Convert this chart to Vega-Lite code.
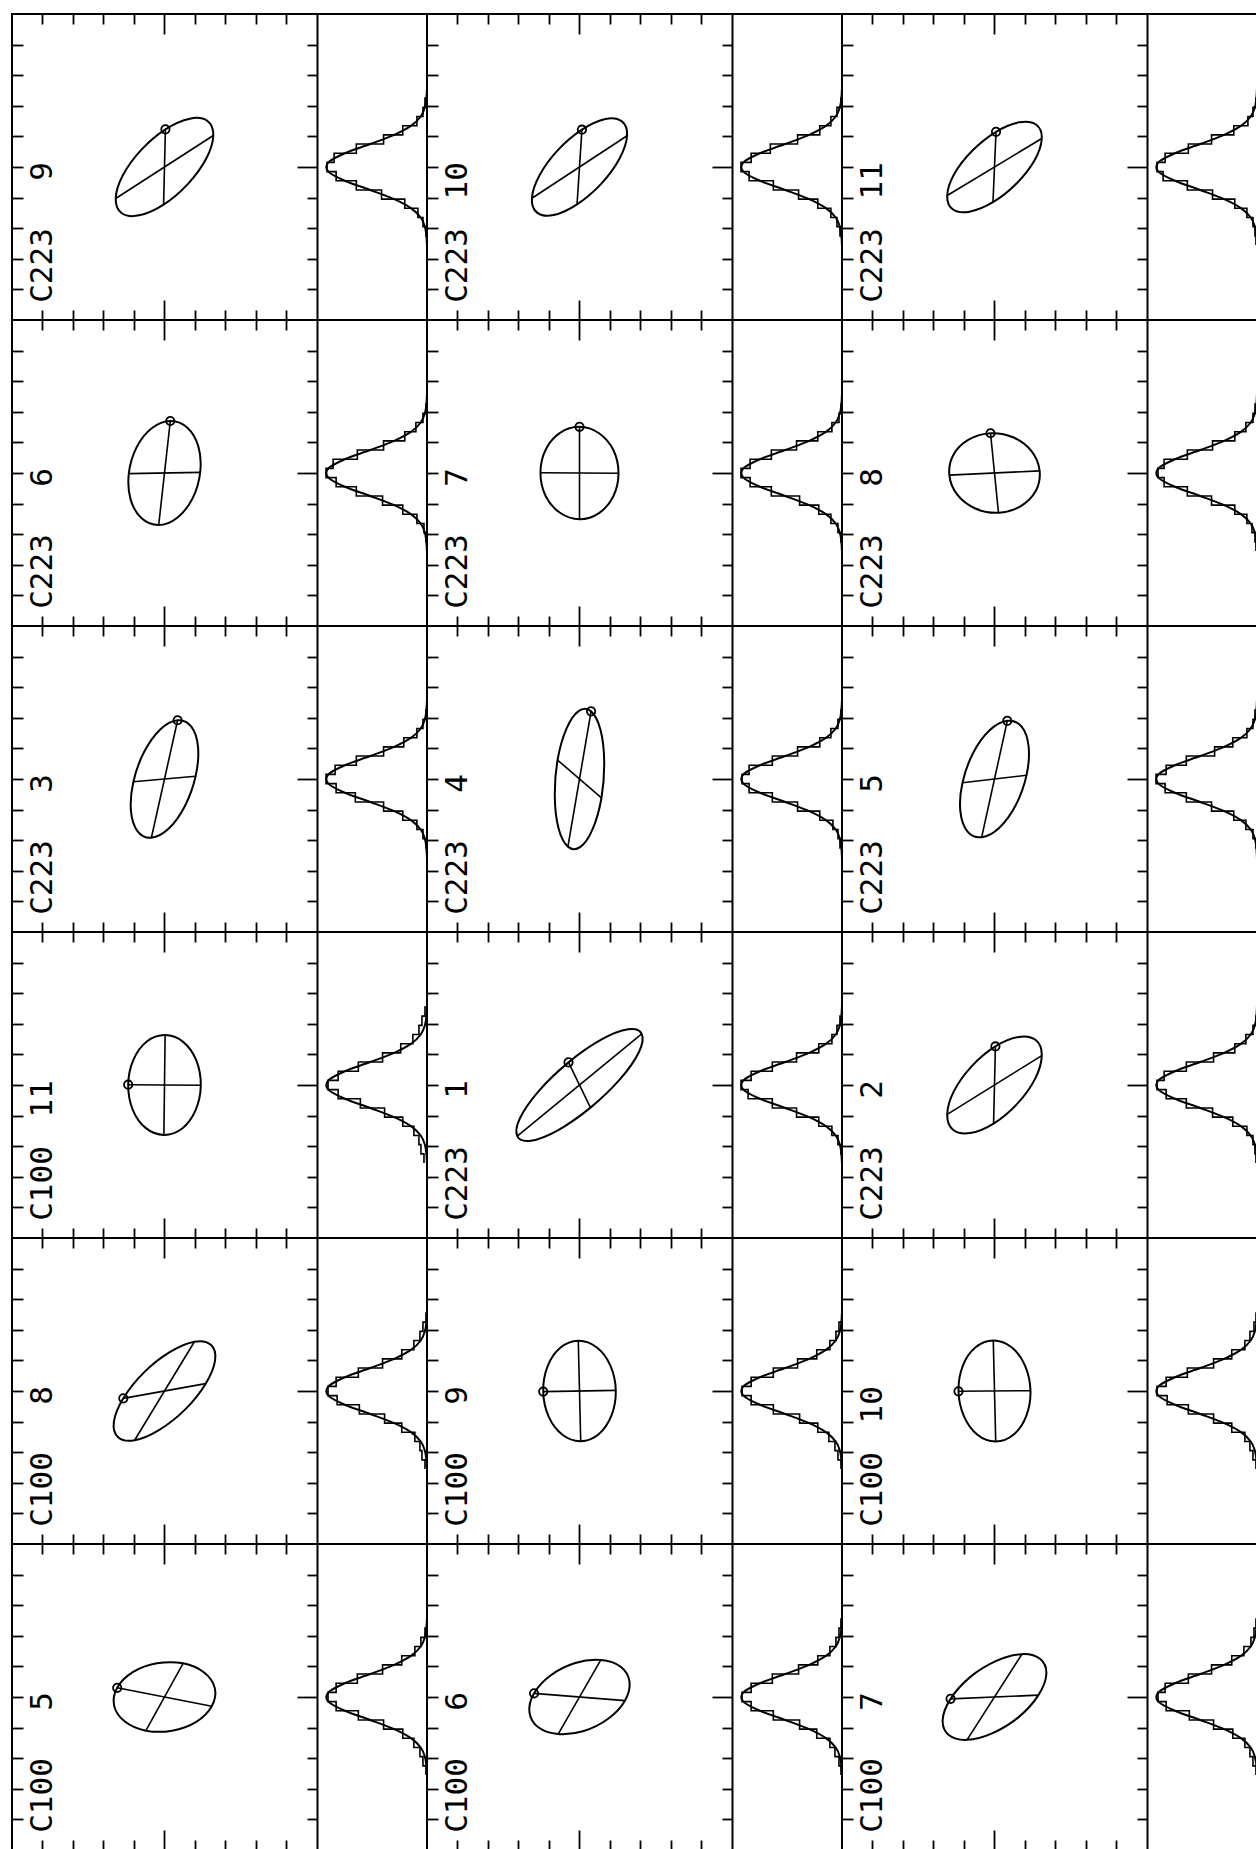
{
"$schema":"https://vega.github.io/schema/vega-lite/v6.json",
"padding":{"left":10,"top":12,"right":0,"bottom":0},
"background":"white",
"bounds":"flush",
"data":{"values":[
{"t":"e","r":0,"c":0,"k":0,"x":0.03,"y":1.23},{"t":"e","r":0,"c":0,"k":1,"x":0.83,"y":1.58},{"t":"e","r":0,"c":0,"k":2,"x":1.40,"y":1.51},{"t":"e","r":0,"c":0,"k":3,"x":1.60,"y":1.03},{"t":"e","r":0,"c":0,"k":4,"x":1.37,"y":0.28},{"t":"e","r":0,"c":0,"k":5,"x":0.77,"y":-0.55},{"t":"e","r":0,"c":0,"k":6,"x":-0.03,"y":-1.23},{"t":"e","r":0,"c":0,"k":7,"x":-0.83,"y":-1.58},{"t":"e","r":0,"c":0,"k":8,"x":-1.40,"y":-1.51},{"t":"e","r":0,"c":0,"k":9,"x":-1.60,"y":-1.03},{"t":"e","r":0,"c":0,"k":10,"x":-1.37,"y":-0.28},{"t":"e","r":0,"c":0,"k":11,"x":-0.77,"y":0.55},
{"t":"e","r":0,"c":1,"k":0,"x":0.08,"y":1.22},{"t":"e","r":0,"c":1,"k":1,"x":0.85,"y":1.57},{"t":"e","r":0,"c":1,"k":2,"x":1.39,"y":1.49},{"t":"e","r":0,"c":1,"k":3,"x":1.56,"y":1.02},{"t":"e","r":0,"c":1,"k":4,"x":1.31,"y":0.27},{"t":"e","r":0,"c":1,"k":5,"x":0.71,"y":-0.55},{"t":"e","r":0,"c":1,"k":6,"x":-0.08,"y":-1.22},{"t":"e","r":0,"c":1,"k":7,"x":-0.85,"y":-1.57},{"t":"e","r":0,"c":1,"k":8,"x":-1.39,"y":-1.49},{"t":"e","r":0,"c":1,"k":9,"x":-1.56,"y":-1.02},{"t":"e","r":0,"c":1,"k":10,"x":-1.31,"y":-0.27},{"t":"e","r":0,"c":1,"k":11,"x":-0.71,"y":0.55},
{"t":"e","r":0,"c":2,"k":0,"x":0.05,"y":1.15},{"t":"e","r":0,"c":2,"k":1,"x":0.82,"y":1.46},{"t":"e","r":0,"c":2,"k":2,"x":1.37,"y":1.38},{"t":"e","r":0,"c":2,"k":3,"x":1.55,"y":0.93},{"t":"e","r":0,"c":2,"k":4,"x":1.32,"y":0.23},{"t":"e","r":0,"c":2,"k":5,"x":0.73,"y":-0.53},{"t":"e","r":0,"c":2,"k":6,"x":-0.05,"y":-1.15},{"t":"e","r":0,"c":2,"k":7,"x":-0.82,"y":-1.46},{"t":"e","r":0,"c":2,"k":8,"x":-1.37,"y":-1.38},{"t":"e","r":0,"c":2,"k":9,"x":-1.55,"y":-0.93},{"t":"e","r":0,"c":2,"k":10,"x":-1.32,"y":-0.23},{"t":"e","r":0,"c":2,"k":11,"x":-0.73,"y":0.53},
{"t":"e","r":1,"c":0,"k":0,"x":0.19,"y":1.70},{"t":"e","r":1,"c":0,"k":1,"x":0.75,"y":1.48},{"t":"e","r":1,"c":0,"k":2,"x":1.11,"y":0.87},{"t":"e","r":1,"c":0,"k":3,"x":1.17,"y":0.02},{"t":"e","r":1,"c":0,"k":4,"x":0.92,"y":-0.83},{"t":"e","r":1,"c":0,"k":5,"x":0.42,"y":-1.46},{"t":"e","r":1,"c":0,"k":6,"x":-0.19,"y":-1.70},{"t":"e","r":1,"c":0,"k":7,"x":-0.75,"y":-1.48},{"t":"e","r":1,"c":0,"k":8,"x":-1.11,"y":-0.87},{"t":"e","r":1,"c":0,"k":9,"x":-1.17,"y":-0.02},{"t":"e","r":1,"c":0,"k":10,"x":-0.92,"y":0.83},{"t":"e","r":1,"c":0,"k":11,"x":-0.42,"y":1.46},
{"t":"e","r":1,"c":1,"k":0,"x":0,"y":1.51},{"t":"e","r":1,"c":1,"k":1,"x":0.64,"y":1.30},{"t":"e","r":1,"c":1,"k":2,"x":1.11,"y":0.75},{"t":"e","r":1,"c":1,"k":3,"x":1.28,"y":-0.01},{"t":"e","r":1,"c":1,"k":4,"x":1.11,"y":-0.76},{"t":"e","r":1,"c":1,"k":5,"x":0.64,"y":-1.31},{"t":"e","r":1,"c":1,"k":6,"x":0,"y":-1.51},{"t":"e","r":1,"c":1,"k":7,"x":-0.64,"y":-1.30},{"t":"e","r":1,"c":1,"k":8,"x":-1.11,"y":-0.75},{"t":"e","r":1,"c":1,"k":9,"x":-1.28,"y":0.01},{"t":"e","r":1,"c":1,"k":10,"x":-1.11,"y":0.76},{"t":"e","r":1,"c":1,"k":11,"x":-0.64,"y":1.31},
{"t":"e","r":1,"c":2,"k":0,"x":-0.13,"y":1.30},{"t":"e","r":1,"c":2,"k":1,"x":0.63,"y":1.16},{"t":"e","r":1,"c":2,"k":2,"x":1.22,"y":0.71},{"t":"e","r":1,"c":2,"k":3,"x":1.48,"y":0.07},{"t":"e","r":1,"c":2,"k":4,"x":1.35,"y":-0.59},{"t":"e","r":1,"c":2,"k":5,"x":0.85,"y":-1.09},{"t":"e","r":1,"c":2,"k":6,"x":0.13,"y":-1.30},{"t":"e","r":1,"c":2,"k":7,"x":-0.63,"y":-1.16},{"t":"e","r":1,"c":2,"k":8,"x":-1.22,"y":-0.71},{"t":"e","r":1,"c":2,"k":9,"x":-1.48,"y":-0.07},{"t":"e","r":1,"c":2,"k":10,"x":-1.35,"y":0.59},{"t":"e","r":1,"c":2,"k":11,"x":-0.85,"y":1.09},
{"t":"e","r":2,"c":0,"k":0,"x":0.43,"y":1.92},{"t":"e","r":2,"c":0,"k":1,"x":0.88,"y":1.71},{"t":"e","r":2,"c":0,"k":2,"x":1.10,"y":1.04},{"t":"e","r":2,"c":0,"k":3,"x":1.02,"y":0.09},{"t":"e","r":2,"c":0,"k":4,"x":0.67,"y":-0.88},{"t":"e","r":2,"c":0,"k":5,"x":0.14,"y":-1.62},{"t":"e","r":2,"c":0,"k":6,"x":-0.43,"y":-1.92},{"t":"e","r":2,"c":0,"k":7,"x":-0.88,"y":-1.71},{"t":"e","r":2,"c":0,"k":8,"x":-1.10,"y":-1.04},{"t":"e","r":2,"c":0,"k":9,"x":-1.02,"y":-0.09},{"t":"e","r":2,"c":0,"k":10,"x":-0.67,"y":0.88},{"t":"e","r":2,"c":0,"k":11,"x":-0.14,"y":1.62},
{"t":"e","r":2,"c":1,"k":0,"x":0.38,"y":2.21},{"t":"e","r":2,"c":1,"k":1,"x":0.69,"y":1.60},{"t":"e","r":2,"c":1,"k":2,"x":0.81,"y":0.57},{"t":"e","r":2,"c":1,"k":3,"x":0.72,"y":-0.62},{"t":"e","r":2,"c":1,"k":4,"x":0.43,"y":-1.64},{"t":"e","r":2,"c":1,"k":5,"x":0.03,"y":-2.22},{"t":"e","r":2,"c":1,"k":6,"x":-0.38,"y":-2.21},{"t":"e","r":2,"c":1,"k":7,"x":-0.69,"y":-1.60},{"t":"e","r":2,"c":1,"k":8,"x":-0.81,"y":-0.57},{"t":"e","r":2,"c":1,"k":9,"x":-0.72,"y":0.62},{"t":"e","r":2,"c":1,"k":10,"x":-0.43,"y":1.64},{"t":"e","r":2,"c":1,"k":11,"x":-0.03,"y":2.22},
{"t":"e","r":2,"c":2,"k":0,"x":0.42,"y":1.90},{"t":"e","r":2,"c":2,"k":1,"x":0.89,"y":1.71},{"t":"e","r":2,"c":2,"k":2,"x":1.12,"y":1.05},{"t":"e","r":2,"c":2,"k":3,"x":1.05,"y":0.12},{"t":"e","r":2,"c":2,"k":4,"x":0.70,"y":-0.85},{"t":"e","r":2,"c":2,"k":5,"x":0.16,"y":-1.59},{"t":"e","r":2,"c":2,"k":6,"x":-0.42,"y":-1.90},{"t":"e","r":2,"c":2,"k":7,"x":-0.89,"y":-1.71},{"t":"e","r":2,"c":2,"k":8,"x":-1.12,"y":-1.05},{"t":"e","r":2,"c":2,"k":9,"x":-1.05,"y":-0.12},{"t":"e","r":2,"c":2,"k":10,"x":-0.70,"y":0.85},{"t":"e","r":2,"c":2,"k":11,"x":-0.16,"y":1.59},
{"t":"e","r":3,"c":0,"k":0,"x":-1.19,"y":0.01},{"t":"e","r":3,"c":0,"k":1,"x":-1.02,"y":0.82},{"t":"e","r":3,"c":0,"k":2,"x":-0.58,"y":1.42},{"t":"e","r":3,"c":0,"k":3,"x":0.02,"y":1.63},{"t":"e","r":3,"c":0,"k":4,"x":0.61,"y":1.41},{"t":"e","r":3,"c":0,"k":5,"x":1.04,"y":0.81},{"t":"e","r":3,"c":0,"k":6,"x":1.19,"y":-0.01},{"t":"e","r":3,"c":0,"k":7,"x":1.02,"y":-0.82},{"t":"e","r":3,"c":0,"k":8,"x":0.58,"y":-1.42},{"t":"e","r":3,"c":0,"k":9,"x":-0.02,"y":-1.63},{"t":"e","r":3,"c":0,"k":10,"x":-0.61,"y":-1.41},{"t":"e","r":3,"c":0,"k":11,"x":-1.04,"y":-0.81},
{"t":"e","r":3,"c":1,"k":0,"x":-0.36,"y":0.74},{"t":"e","r":3,"c":1,"k":1,"x":0.71,"y":1.48},{"t":"e","r":3,"c":1,"k":2,"x":1.59,"y":1.82},{"t":"e","r":3,"c":1,"k":3,"x":2.04,"y":1.67},{"t":"e","r":3,"c":1,"k":4,"x":1.95,"y":1.08},{"t":"e","r":3,"c":1,"k":5,"x":1.33,"y":0.19},{"t":"e","r":3,"c":1,"k":6,"x":0.36,"y":-0.74},{"t":"e","r":3,"c":1,"k":7,"x":-0.71,"y":-1.48},{"t":"e","r":3,"c":1,"k":8,"x":-1.59,"y":-1.82},{"t":"e","r":3,"c":1,"k":9,"x":-2.04,"y":-1.67},{"t":"e","r":3,"c":1,"k":10,"x":-1.95,"y":-1.08},{"t":"e","r":3,"c":1,"k":11,"x":-1.33,"y":-0.19},
{"t":"e","r":3,"c":2,"k":0,"x":0.03,"y":1.26},{"t":"e","r":3,"c":2,"k":1,"x":0.80,"y":1.57},{"t":"e","r":3,"c":2,"k":2,"x":1.36,"y":1.46},{"t":"e","r":3,"c":2,"k":3,"x":1.55,"y":0.96},{"t":"e","r":3,"c":2,"k":4,"x":1.33,"y":0.20},{"t":"e","r":3,"c":2,"k":5,"x":0.75,"y":-0.61},{"t":"e","r":3,"c":2,"k":6,"x":-0.03,"y":-1.26},{"t":"e","r":3,"c":2,"k":7,"x":-0.80,"y":-1.57},{"t":"e","r":3,"c":2,"k":8,"x":-1.36,"y":-1.46},{"t":"e","r":3,"c":2,"k":9,"x":-1.55,"y":-0.96},{"t":"e","r":3,"c":2,"k":10,"x":-1.33,"y":-0.20},{"t":"e","r":3,"c":2,"k":11,"x":-0.75,"y":0.61},
{"t":"e","r":4,"c":0,"k":0,"x":-1.35,"y":-0.24},{"t":"e","r":4,"c":0,"k":1,"x":-0.68,"y":0.60},{"t":"e","r":4,"c":0,"k":2,"x":0.17,"y":1.27},{"t":"e","r":4,"c":0,"k":3,"x":0.98,"y":1.61},{"t":"e","r":4,"c":0,"k":4,"x":1.52,"y":1.51},{"t":"e","r":4,"c":0,"k":5,"x":1.66,"y":1.01},{"t":"e","r":4,"c":0,"k":6,"x":1.35,"y":0.24},{"t":"e","r":4,"c":0,"k":7,"x":0.68,"y":-0.60},{"t":"e","r":4,"c":0,"k":8,"x":-0.17,"y":-1.27},{"t":"e","r":4,"c":0,"k":9,"x":-0.98,"y":-1.61},{"t":"e","r":4,"c":0,"k":10,"x":-1.52,"y":-1.51},{"t":"e","r":4,"c":0,"k":11,"x":-1.66,"y":-1.01},
{"t":"e","r":4,"c":1,"k":0,"x":-1.19,"y":-0.02},{"t":"e","r":4,"c":1,"k":1,"x":-1.05,"y":0.80},{"t":"e","r":4,"c":1,"k":2,"x":-0.63,"y":1.41},{"t":"e","r":4,"c":1,"k":3,"x":-0.04,"y":1.64},{"t":"e","r":4,"c":1,"k":4,"x":0.56,"y":1.43},{"t":"e","r":4,"c":1,"k":5,"x":1.01,"y":0.84},{"t":"e","r":4,"c":1,"k":6,"x":1.19,"y":0.02},{"t":"e","r":4,"c":1,"k":7,"x":1.05,"y":-0.80},{"t":"e","r":4,"c":1,"k":8,"x":0.63,"y":-1.41},{"t":"e","r":4,"c":1,"k":9,"x":0.04,"y":-1.64},{"t":"e","r":4,"c":1,"k":10,"x":-0.56,"y":-1.43},{"t":"e","r":4,"c":1,"k":11,"x":-1.01,"y":-0.84},
{"t":"e","r":4,"c":2,"k":0,"x":-1.18,"y":-0.01},{"t":"e","r":4,"c":2,"k":1,"x":-1.04,"y":0.82},{"t":"e","r":4,"c":2,"k":2,"x":-0.63,"y":1.42},{"t":"e","r":4,"c":2,"k":3,"x":-0.04,"y":1.65},{"t":"e","r":4,"c":2,"k":4,"x":0.56,"y":1.43},{"t":"e","r":4,"c":2,"k":5,"x":1.00,"y":0.83},{"t":"e","r":4,"c":2,"k":6,"x":1.18,"y":0.01},{"t":"e","r":4,"c":2,"k":7,"x":1.04,"y":-0.82},{"t":"e","r":4,"c":2,"k":8,"x":0.63,"y":-1.42},{"t":"e","r":4,"c":2,"k":9,"x":0.04,"y":-1.65},{"t":"e","r":4,"c":2,"k":10,"x":-0.56,"y":-1.43},{"t":"e","r":4,"c":2,"k":11,"x":-1.00,"y":-0.83},
{"t":"e","r":5,"c":0,"k":0,"x":-1.55,"y":0.30},{"t":"e","r":5,"c":0,"k":1,"x":-1.04,"y":0.81},{"t":"e","r":5,"c":0,"k":2,"x":-0.25,"y":1.10},{"t":"e","r":5,"c":0,"k":3,"x":0.61,"y":1.10},{"t":"e","r":5,"c":0,"k":4,"x":1.30,"y":0.80},{"t":"e","r":5,"c":0,"k":5,"x":1.65,"y":0.29},{"t":"e","r":5,"c":0,"k":6,"x":1.55,"y":-0.30},{"t":"e","r":5,"c":0,"k":7,"x":1.04,"y":-0.81},{"t":"e","r":5,"c":0,"k":8,"x":0.25,"y":-1.10},{"t":"e","r":5,"c":0,"k":9,"x":-0.61,"y":-1.10},{"t":"e","r":5,"c":0,"k":10,"x":-1.30,"y":-0.80},{"t":"e","r":5,"c":0,"k":11,"x":-1.65,"y":-0.29},
{"t":"e","r":5,"c":1,"k":0,"x":-1.49,"y":0.12},{"t":"e","r":5,"c":1,"k":1,"x":-0.94,"y":0.71},{"t":"e","r":5,"c":1,"k":2,"x":-0.14,"y":1.11},{"t":"e","r":5,"c":1,"k":3,"x":0.70,"y":1.21},{"t":"e","r":5,"c":1,"k":4,"x":1.35,"y":0.99},{"t":"e","r":5,"c":1,"k":5,"x":1.64,"y":0.50},{"t":"e","r":5,"c":1,"k":6,"x":1.49,"y":-0.12},{"t":"e","r":5,"c":1,"k":7,"x":0.94,"y":-0.71},{"t":"e","r":5,"c":1,"k":8,"x":0.14,"y":-1.11},{"t":"e","r":5,"c":1,"k":9,"x":-0.70,"y":-1.21},{"t":"e","r":5,"c":1,"k":10,"x":-1.35,"y":-0.99},{"t":"e","r":5,"c":1,"k":11,"x":-1.64,"y":-0.50},
{"t":"e","r":5,"c":2,"k":0,"x":-1.44,"y":-0.06},{"t":"e","r":5,"c":2,"k":1,"x":-0.80,"y":0.65},{"t":"e","r":5,"c":2,"k":2,"x":0.06,"y":1.18},{"t":"e","r":5,"c":2,"k":3,"x":0.90,"y":1.40},{"t":"e","r":5,"c":2,"k":4,"x":1.50,"y":1.24},{"t":"e","r":5,"c":2,"k":5,"x":1.70,"y":0.75},{"t":"e","r":5,"c":2,"k":6,"x":1.44,"y":0.06},{"t":"e","r":5,"c":2,"k":7,"x":0.80,"y":-0.65},{"t":"e","r":5,"c":2,"k":8,"x":-0.06,"y":-1.18},{"t":"e","r":5,"c":2,"k":9,"x":-0.90,"y":-1.40},{"t":"e","r":5,"c":2,"k":10,"x":-1.50,"y":-1.24},{"t":"e","r":5,"c":2,"k":11,"x":-1.70,"y":-0.75},
{"t":"d","r":0,"c":0,"m":1,"name":"C223","num":"9","x":0.03,"y":1.23,"x2":-0.03,"y2":-1.23},{"t":"d","r":0,"c":0,"m":0,"x":1.60,"y":1.03,"x2":-1.60,"y2":-1.03},
{"t":"d","r":0,"c":1,"m":1,"name":"C223","num":"10","x":0.08,"y":1.22,"x2":-0.08,"y2":-1.22},{"t":"d","r":0,"c":1,"m":0,"x":1.56,"y":1.02,"x2":-1.56,"y2":-1.02},
{"t":"d","r":0,"c":2,"m":1,"name":"C223","num":"11","x":0.05,"y":1.15,"x2":-0.05,"y2":-1.15},{"t":"d","r":0,"c":2,"m":0,"x":1.55,"y":0.93,"x2":-1.55,"y2":-0.93},
{"t":"d","r":1,"c":0,"m":1,"name":"C223","num":"6","x":0.19,"y":1.70,"x2":-0.19,"y2":-1.70},{"t":"d","r":1,"c":0,"m":0,"x":1.17,"y":0.02,"x2":-1.17,"y2":-0.02},
{"t":"d","r":1,"c":1,"m":1,"name":"C223","num":"7","x":0,"y":1.51,"x2":0,"y2":-1.51},{"t":"d","r":1,"c":1,"m":0,"x":1.28,"y":-0.01,"x2":-1.28,"y2":0.01},
{"t":"d","r":1,"c":2,"m":1,"name":"C223","num":"8","x":-0.13,"y":1.30,"x2":0.13,"y2":-1.30},{"t":"d","r":1,"c":2,"m":0,"x":1.48,"y":0.07,"x2":-1.48,"y2":-0.07},
{"t":"d","r":2,"c":0,"m":1,"name":"C223","num":"3","x":0.43,"y":1.92,"x2":-0.43,"y2":-1.92},{"t":"d","r":2,"c":0,"m":0,"x":1.02,"y":0.09,"x2":-1.02,"y2":-0.09},
{"t":"d","r":2,"c":1,"m":1,"name":"C223","num":"4","x":0.38,"y":2.21,"x2":-0.38,"y2":-2.21},{"t":"d","r":2,"c":1,"m":0,"x":0.72,"y":-0.62,"x2":-0.72,"y2":0.62},
{"t":"d","r":2,"c":2,"m":1,"name":"C223","num":"5","x":0.42,"y":1.90,"x2":-0.42,"y2":-1.90},{"t":"d","r":2,"c":2,"m":0,"x":1.05,"y":0.12,"x2":-1.05,"y2":-0.12},
{"t":"d","r":3,"c":0,"m":1,"name":"C100","num":"11","x":-1.19,"y":0.01,"x2":1.19,"y2":-0.01},{"t":"d","r":3,"c":0,"m":0,"x":0.02,"y":1.63,"x2":-0.02,"y2":-1.63},
{"t":"d","r":3,"c":1,"m":1,"name":"C223","num":"1","x":-0.36,"y":0.74,"x2":0.36,"y2":-0.74},{"t":"d","r":3,"c":1,"m":0,"x":2.04,"y":1.67,"x2":-2.04,"y2":-1.67},
{"t":"d","r":3,"c":2,"m":1,"name":"C223","num":"2","x":0.03,"y":1.26,"x2":-0.03,"y2":-1.26},{"t":"d","r":3,"c":2,"m":0,"x":1.55,"y":0.96,"x2":-1.55,"y2":-0.96},
{"t":"d","r":4,"c":0,"m":1,"name":"C100","num":"8","x":-1.35,"y":-0.24,"x2":1.35,"y2":0.24},{"t":"d","r":4,"c":0,"m":0,"x":0.98,"y":1.61,"x2":-0.98,"y2":-1.61},
{"t":"d","r":4,"c":1,"m":1,"name":"C100","num":"9","x":-1.19,"y":-0.02,"x2":1.19,"y2":0.02},{"t":"d","r":4,"c":1,"m":0,"x":-0.04,"y":1.64,"x2":0.04,"y2":-1.64},
{"t":"d","r":4,"c":2,"m":1,"name":"C100","num":"10","x":-1.18,"y":-0.01,"x2":1.18,"y2":0.01},{"t":"d","r":4,"c":2,"m":0,"x":-0.04,"y":1.65,"x2":0.04,"y2":-1.65},
{"t":"d","r":5,"c":0,"m":1,"name":"C100","num":"5","x":-1.55,"y":0.30,"x2":1.55,"y2":-0.30},{"t":"d","r":5,"c":0,"m":0,"x":0.61,"y":1.10,"x2":-0.61,"y2":-1.10},
{"t":"d","r":5,"c":1,"m":1,"name":"C100","num":"6","x":-1.49,"y":0.12,"x2":1.49,"y2":-0.12},{"t":"d","r":5,"c":1,"m":0,"x":0.70,"y":1.21,"x2":-0.70,"y2":-1.21},
{"t":"d","r":5,"c":2,"m":1,"name":"C100","num":"7","x":-1.44,"y":-0.06,"x2":1.44,"y2":0.06},{"t":"d","r":5,"c":2,"m":0,"x":0.90,"y":1.40,"x2":-0.90,"y2":-1.40},
{"t":"h","r":0,"c":0,"v":-2.55,"n":0,"g":0.001},{"t":"h","r":0,"c":0,"v":-2.25,"n":0.01,"g":0.006},{"t":"h","r":0,"c":0,"v":-1.95,"n":0.04,"g":0.021},{"t":"h","r":0,"c":0,"v":-1.65,"n":0.09,"g":0.062},{"t":"h","r":0,"c":0,"v":-1.35,"n":0.22,"g":0.156},{"t":"h","r":0,"c":0,"v":-1.05,"n":0.45,"g":0.325},{"t":"h","r":0,"c":0,"v":-0.75,"n":0.70,"g":0.563},{"t":"h","r":0,"c":0,"v":-0.45,"n":0.90,"g":0.813},{"t":"h","r":0,"c":0,"v":-0.15,"n":0.99,"g":0.977},{"t":"h","r":0,"c":0,"v":0.15,"n":0.92,"g":0.977},{"t":"h","r":0,"c":0,"v":0.45,"n":0.70,"g":0.813},{"t":"h","r":0,"c":0,"v":0.75,"n":0.43,"g":0.563},{"t":"h","r":0,"c":0,"v":1.05,"n":0.24,"g":0.325},{"t":"h","r":0,"c":0,"v":1.35,"n":0.10,"g":0.156},{"t":"h","r":0,"c":0,"v":1.65,"n":0.04,"g":0.062},{"t":"h","r":0,"c":0,"v":1.95,"n":0.02,"g":0.021},{"t":"h","r":0,"c":0,"v":2.25,"n":0,"g":0.006},{"t":"h","r":0,"c":0,"v":2.55,"n":0,"g":0.001},
{"t":"h","r":0,"c":1,"v":-2.55,"n":0,"g":0.001},{"t":"h","r":0,"c":1,"v":-2.25,"n":0.02,"g":0.006},{"t":"h","r":0,"c":1,"v":-1.95,"n":0.05,"g":0.021},{"t":"h","r":0,"c":1,"v":-1.65,"n":0.11,"g":0.062},{"t":"h","r":0,"c":1,"v":-1.35,"n":0.24,"g":0.156},{"t":"h","r":0,"c":1,"v":-1.05,"n":0.43,"g":0.325},{"t":"h","r":0,"c":1,"v":-0.75,"n":0.68,"g":0.563},{"t":"h","r":0,"c":1,"v":-0.45,"n":0.92,"g":0.813},{"t":"h","r":0,"c":1,"v":-0.15,"n":1.00,"g":0.977},{"t":"h","r":0,"c":1,"v":0.15,"n":0.90,"g":0.977},{"t":"h","r":0,"c":1,"v":0.45,"n":0.71,"g":0.813},{"t":"h","r":0,"c":1,"v":0.75,"n":0.44,"g":0.563},{"t":"h","r":0,"c":1,"v":1.05,"n":0.22,"g":0.325},{"t":"h","r":0,"c":1,"v":1.35,"n":0.11,"g":0.156},{"t":"h","r":0,"c":1,"v":1.65,"n":0.05,"g":0.062},{"t":"h","r":0,"c":1,"v":1.95,"n":0.01,"g":0.021},{"t":"h","r":0,"c":1,"v":2.25,"n":0,"g":0.006},{"t":"h","r":0,"c":1,"v":2.55,"n":0,"g":0.001},
{"t":"h","r":0,"c":2,"v":-2.55,"n":0.01,"g":0.001},{"t":"h","r":0,"c":2,"v":-2.25,"n":0.02,"g":0.006},{"t":"h","r":0,"c":2,"v":-1.95,"n":0.04,"g":0.021},{"t":"h","r":0,"c":2,"v":-1.65,"n":0.10,"g":0.062},{"t":"h","r":0,"c":2,"v":-1.35,"n":0.22,"g":0.156},{"t":"h","r":0,"c":2,"v":-1.05,"n":0.44,"g":0.325},{"t":"h","r":0,"c":2,"v":-0.75,"n":0.69,"g":0.563},{"t":"h","r":0,"c":2,"v":-0.45,"n":0.93,"g":0.813},{"t":"h","r":0,"c":2,"v":-0.15,"n":0.99,"g":0.977},{"t":"h","r":0,"c":2,"v":0.15,"n":0.91,"g":0.977},{"t":"h","r":0,"c":2,"v":0.45,"n":0.68,"g":0.813},{"t":"h","r":0,"c":2,"v":0.75,"n":0.45,"g":0.563},{"t":"h","r":0,"c":2,"v":1.05,"n":0.23,"g":0.325},{"t":"h","r":0,"c":2,"v":1.35,"n":0.09,"g":0.156},{"t":"h","r":0,"c":2,"v":1.65,"n":0.04,"g":0.062},{"t":"h","r":0,"c":2,"v":1.95,"n":0.01,"g":0.021},{"t":"h","r":0,"c":2,"v":2.25,"n":0,"g":0.006},{"t":"h","r":0,"c":2,"v":2.55,"n":0,"g":0.001},
{"t":"h","r":1,"c":0,"v":-2.55,"n":0,"g":0.001},{"t":"h","r":1,"c":0,"v":-2.25,"n":0.01,"g":0.006},{"t":"h","r":1,"c":0,"v":-1.95,"n":0.03,"g":0.021},{"t":"h","r":1,"c":0,"v":-1.65,"n":0.10,"g":0.062},{"t":"h","r":1,"c":0,"v":-1.35,"n":0.24,"g":0.156},{"t":"h","r":1,"c":0,"v":-1.05,"n":0.44,"g":0.325},{"t":"h","r":1,"c":0,"v":-0.75,"n":0.70,"g":0.563},{"t":"h","r":1,"c":0,"v":-0.45,"n":0.90,"g":0.813},{"t":"h","r":1,"c":0,"v":-0.15,"n":1.00,"g":0.977},{"t":"h","r":1,"c":0,"v":0.15,"n":0.93,"g":0.977},{"t":"h","r":1,"c":0,"v":0.45,"n":0.69,"g":0.813},{"t":"h","r":1,"c":0,"v":0.75,"n":0.43,"g":0.563},{"t":"h","r":1,"c":0,"v":1.05,"n":0.22,"g":0.325},{"t":"h","r":1,"c":0,"v":1.35,"n":0.11,"g":0.156},{"t":"h","r":1,"c":0,"v":1.65,"n":0.04,"g":0.062},{"t":"h","r":1,"c":0,"v":1.95,"n":0.01,"g":0.021},{"t":"h","r":1,"c":0,"v":2.25,"n":0,"g":0.006},{"t":"h","r":1,"c":0,"v":2.55,"n":0,"g":0.001},
{"t":"h","r":1,"c":1,"v":-2.55,"n":0,"g":0.001},{"t":"h","r":1,"c":1,"v":-2.25,"n":0.01,"g":0.006},{"t":"h","r":1,"c":1,"v":-1.95,"n":0.04,"g":0.021},{"t":"h","r":1,"c":1,"v":-1.65,"n":0.11,"g":0.062},{"t":"h","r":1,"c":1,"v":-1.35,"n":0.23,"g":0.156},{"t":"h","r":1,"c":1,"v":-1.05,"n":0.42,"g":0.325},{"t":"h","r":1,"c":1,"v":-0.75,"n":0.70,"g":0.563},{"t":"h","r":1,"c":1,"v":-0.45,"n":0.91,"g":0.813},{"t":"h","r":1,"c":1,"v":-0.15,"n":1.00,"g":0.977},{"t":"h","r":1,"c":1,"v":0.15,"n":0.91,"g":0.977},{"t":"h","r":1,"c":1,"v":0.45,"n":0.70,"g":0.813},{"t":"h","r":1,"c":1,"v":0.75,"n":0.45,"g":0.563},{"t":"h","r":1,"c":1,"v":1.05,"n":0.24,"g":0.325},{"t":"h","r":1,"c":1,"v":1.35,"n":0.10,"g":0.156},{"t":"h","r":1,"c":1,"v":1.65,"n":0.03,"g":0.062},{"t":"h","r":1,"c":1,"v":1.95,"n":0.01,"g":0.021},{"t":"h","r":1,"c":1,"v":2.25,"n":0,"g":0.006},{"t":"h","r":1,"c":1,"v":2.55,"n":0,"g":0.001},
{"t":"h","r":1,"c":2,"v":-2.55,"n":0.01,"g":0.001},{"t":"h","r":1,"c":2,"v":-2.25,"n":0.02,"g":0.006},{"t":"h","r":1,"c":2,"v":-1.95,"n":0.05,"g":0.021},{"t":"h","r":1,"c":2,"v":-1.65,"n":0.10,"g":0.062},{"t":"h","r":1,"c":2,"v":-1.35,"n":0.22,"g":0.156},{"t":"h","r":1,"c":2,"v":-1.05,"n":0.45,"g":0.325},{"t":"h","r":1,"c":2,"v":-0.75,"n":0.69,"g":0.563},{"t":"h","r":1,"c":2,"v":-0.45,"n":0.92,"g":0.813},{"t":"h","r":1,"c":2,"v":-0.15,"n":0.98,"g":0.977},{"t":"h","r":1,"c":2,"v":0.15,"n":0.92,"g":0.977},{"t":"h","r":1,"c":2,"v":0.45,"n":0.69,"g":0.813},{"t":"h","r":1,"c":2,"v":0.75,"n":0.44,"g":0.563},{"t":"h","r":1,"c":2,"v":1.05,"n":0.22,"g":0.325},{"t":"h","r":1,"c":2,"v":1.35,"n":0.11,"g":0.156},{"t":"h","r":1,"c":2,"v":1.65,"n":0.04,"g":0.062},{"t":"h","r":1,"c":2,"v":1.95,"n":0.02,"g":0.021},{"t":"h","r":1,"c":2,"v":2.25,"n":0,"g":0.006},{"t":"h","r":1,"c":2,"v":2.55,"n":0,"g":0.001},
{"t":"h","r":2,"c":0,"v":-2.55,"n":0,"g":0.001},{"t":"h","r":2,"c":0,"v":-2.25,"n":0.01,"g":0.006},{"t":"h","r":2,"c":0,"v":-1.95,"n":0.04,"g":0.021},{"t":"h","r":2,"c":0,"v":-1.65,"n":0.10,"g":0.062},{"t":"h","r":2,"c":0,"v":-1.35,"n":0.24,"g":0.156},{"t":"h","r":2,"c":0,"v":-1.05,"n":0.43,"g":0.325},{"t":"h","r":2,"c":0,"v":-0.75,"n":0.71,"g":0.563},{"t":"h","r":2,"c":0,"v":-0.45,"n":0.90,"g":0.813},{"t":"h","r":2,"c":0,"v":-0.15,"n":1.00,"g":0.977},{"t":"h","r":2,"c":0,"v":0.15,"n":0.91,"g":0.977},{"t":"h","r":2,"c":0,"v":0.45,"n":0.70,"g":0.813},{"t":"h","r":2,"c":0,"v":0.75,"n":0.43,"g":0.563},{"t":"h","r":2,"c":0,"v":1.05,"n":0.23,"g":0.325},{"t":"h","r":2,"c":0,"v":1.35,"n":0.10,"g":0.156},{"t":"h","r":2,"c":0,"v":1.65,"n":0.04,"g":0.062},{"t":"h","r":2,"c":0,"v":1.95,"n":0.01,"g":0.021},{"t":"h","r":2,"c":0,"v":2.25,"n":0,"g":0.006},{"t":"h","r":2,"c":0,"v":2.55,"n":0,"g":0.001},
{"t":"h","r":2,"c":1,"v":-2.55,"n":0,"g":0.001},{"t":"h","r":2,"c":1,"v":-2.25,"n":0.02,"g":0.006},{"t":"h","r":2,"c":1,"v":-1.95,"n":0.04,"g":0.021},{"t":"h","r":2,"c":1,"v":-1.65,"n":0.09,"g":0.062},{"t":"h","r":2,"c":1,"v":-1.35,"n":0.22,"g":0.156},{"t":"h","r":2,"c":1,"v":-1.05,"n":0.44,"g":0.325},{"t":"h","r":2,"c":1,"v":-0.75,"n":0.69,"g":0.563},{"t":"h","r":2,"c":1,"v":-0.45,"n":0.92,"g":0.813},{"t":"h","r":2,"c":1,"v":-0.15,"n":0.99,"g":0.977},{"t":"h","r":2,"c":1,"v":0.15,"n":0.92,"g":0.977},{"t":"h","r":2,"c":1,"v":0.45,"n":0.69,"g":0.813},{"t":"h","r":2,"c":1,"v":0.75,"n":0.44,"g":0.563},{"t":"h","r":2,"c":1,"v":1.05,"n":0.22,"g":0.325},{"t":"h","r":2,"c":1,"v":1.35,"n":0.11,"g":0.156},{"t":"h","r":2,"c":1,"v":1.65,"n":0.04,"g":0.062},{"t":"h","r":2,"c":1,"v":1.95,"n":0.01,"g":0.021},{"t":"h","r":2,"c":1,"v":2.25,"n":0,"g":0.006},{"t":"h","r":2,"c":1,"v":2.55,"n":0,"g":0.001},
{"t":"h","r":2,"c":2,"v":-2.55,"n":0,"g":0.001},{"t":"h","r":2,"c":2,"v":-2.25,"n":0.01,"g":0.006},{"t":"h","r":2,"c":2,"v":-1.95,"n":0.04,"g":0.021},{"t":"h","r":2,"c":2,"v":-1.65,"n":0.11,"g":0.062},{"t":"h","r":2,"c":2,"v":-1.35,"n":0.23,"g":0.156},{"t":"h","r":2,"c":2,"v":-1.05,"n":0.45,"g":0.325},{"t":"h","r":2,"c":2,"v":-0.75,"n":0.70,"g":0.563},{"t":"h","r":2,"c":2,"v":-0.45,"n":0.91,"g":0.813},{"t":"h","r":2,"c":2,"v":-0.15,"n":1.00,"g":0.977},{"t":"h","r":2,"c":2,"v":0.15,"n":0.90,"g":0.977},{"t":"h","r":2,"c":2,"v":0.45,"n":0.70,"g":0.813},{"t":"h","r":2,"c":2,"v":0.75,"n":0.42,"g":0.563},{"t":"h","r":2,"c":2,"v":1.05,"n":0.24,"g":0.325},{"t":"h","r":2,"c":2,"v":1.35,"n":0.10,"g":0.156},{"t":"h","r":2,"c":2,"v":1.65,"n":0.04,"g":0.062},{"t":"h","r":2,"c":2,"v":1.95,"n":0.02,"g":0.021},{"t":"h","r":2,"c":2,"v":2.25,"n":0,"g":0.006},{"t":"h","r":2,"c":2,"v":2.55,"n":0,"g":0.001},
{"t":"h","r":3,"c":0,"v":-2.55,"n":0.03,"g":0.001},{"t":"h","r":3,"c":0,"v":-2.25,"n":0.06,"g":0.006},{"t":"h","r":3,"c":0,"v":-1.95,"n":0.08,"g":0.021},{"t":"h","r":3,"c":0,"v":-1.65,"n":0.13,"g":0.062},{"t":"h","r":3,"c":0,"v":-1.35,"n":0.24,"g":0.156},{"t":"h","r":3,"c":0,"v":-1.05,"n":0.42,"g":0.325},{"t":"h","r":3,"c":0,"v":-0.75,"n":0.66,"g":0.563},{"t":"h","r":3,"c":0,"v":-0.45,"n":0.88,"g":0.813},{"t":"h","r":3,"c":0,"v":-0.15,"n":0.98,"g":0.977},{"t":"h","r":3,"c":0,"v":0.15,"n":0.88,"g":0.977},{"t":"h","r":3,"c":0,"v":0.45,"n":0.68,"g":0.813},{"t":"h","r":3,"c":0,"v":0.75,"n":0.44,"g":0.563},{"t":"h","r":3,"c":0,"v":1.05,"n":0.26,"g":0.325},{"t":"h","r":3,"c":0,"v":1.35,"n":0.14,"g":0.156},{"t":"h","r":3,"c":0,"v":1.65,"n":0.08,"g":0.062},{"t":"h","r":3,"c":0,"v":1.95,"n":0.05,"g":0.021},{"t":"h","r":3,"c":0,"v":2.25,"n":0.02,"g":0.006},{"t":"h","r":3,"c":0,"v":2.55,"n":0,"g":0.001},
{"t":"h","r":3,"c":1,"v":-2.55,"n":0,"g":0.001},{"t":"h","r":3,"c":1,"v":-2.25,"n":0.01,"g":0.006},{"t":"h","r":3,"c":1,"v":-1.95,"n":0.04,"g":0.021},{"t":"h","r":3,"c":1,"v":-1.65,"n":0.10,"g":0.062},{"t":"h","r":3,"c":1,"v":-1.35,"n":0.23,"g":0.156},{"t":"h","r":3,"c":1,"v":-1.05,"n":0.45,"g":0.325},{"t":"h","r":3,"c":1,"v":-0.75,"n":0.69,"g":0.563},{"t":"h","r":3,"c":1,"v":-0.45,"n":0.93,"g":0.813},{"t":"h","r":3,"c":1,"v":-0.15,"n":1.00,"g":0.977},{"t":"h","r":3,"c":1,"v":0.15,"n":0.90,"g":0.977},{"t":"h","r":3,"c":1,"v":0.45,"n":0.69,"g":0.813},{"t":"h","r":3,"c":1,"v":0.75,"n":0.45,"g":0.563},{"t":"h","r":3,"c":1,"v":1.05,"n":0.23,"g":0.325},{"t":"h","r":3,"c":1,"v":1.35,"n":0.10,"g":0.156},{"t":"h","r":3,"c":1,"v":1.65,"n":0.05,"g":0.062},{"t":"h","r":3,"c":1,"v":1.95,"n":0.02,"g":0.021},{"t":"h","r":3,"c":1,"v":2.25,"n":0,"g":0.006},{"t":"h","r":3,"c":1,"v":2.55,"n":0,"g":0.001},
{"t":"h","r":3,"c":2,"v":-2.55,"n":0.01,"g":0.001},{"t":"h","r":3,"c":2,"v":-2.25,"n":0.02,"g":0.006},{"t":"h","r":3,"c":2,"v":-1.95,"n":0.04,"g":0.021},{"t":"h","r":3,"c":2,"v":-1.65,"n":0.10,"g":0.062},{"t":"h","r":3,"c":2,"v":-1.35,"n":0.24,"g":0.156},{"t":"h","r":3,"c":2,"v":-1.05,"n":0.44,"g":0.325},{"t":"h","r":3,"c":2,"v":-0.75,"n":0.70,"g":0.563},{"t":"h","r":3,"c":2,"v":-0.45,"n":0.90,"g":0.813},{"t":"h","r":3,"c":2,"v":-0.15,"n":0.99,"g":0.977},{"t":"h","r":3,"c":2,"v":0.15,"n":0.92,"g":0.977},{"t":"h","r":3,"c":2,"v":0.45,"n":0.70,"g":0.813},{"t":"h","r":3,"c":2,"v":0.75,"n":0.43,"g":0.563},{"t":"h","r":3,"c":2,"v":1.05,"n":0.22,"g":0.325},{"t":"h","r":3,"c":2,"v":1.35,"n":0.11,"g":0.156},{"t":"h","r":3,"c":2,"v":1.65,"n":0.04,"g":0.062},{"t":"h","r":3,"c":2,"v":1.95,"n":0.01,"g":0.021},{"t":"h","r":3,"c":2,"v":2.25,"n":0,"g":0.006},{"t":"h","r":3,"c":2,"v":2.55,"n":0,"g":0.001},
{"t":"h","r":4,"c":0,"v":-2.55,"n":0.02,"g":0.001},{"t":"h","r":4,"c":0,"v":-2.25,"n":0.05,"g":0.006},{"t":"h","r":4,"c":0,"v":-1.95,"n":0.07,"g":0.021},{"t":"h","r":4,"c":0,"v":-1.65,"n":0.12,"g":0.062},{"t":"h","r":4,"c":0,"v":-1.35,"n":0.25,"g":0.156},{"t":"h","r":4,"c":0,"v":-1.05,"n":0.42,"g":0.325},{"t":"h","r":4,"c":0,"v":-0.75,"n":0.67,"g":0.563},{"t":"h","r":4,"c":0,"v":-0.45,"n":0.89,"g":0.813},{"t":"h","r":4,"c":0,"v":-0.15,"n":0.98,"g":0.977},{"t":"h","r":4,"c":0,"v":0.15,"n":0.90,"g":0.977},{"t":"h","r":4,"c":0,"v":0.45,"n":0.68,"g":0.813},{"t":"h","r":4,"c":0,"v":0.75,"n":0.44,"g":0.563},{"t":"h","r":4,"c":0,"v":1.05,"n":0.25,"g":0.325},{"t":"h","r":4,"c":0,"v":1.35,"n":0.13,"g":0.156},{"t":"h","r":4,"c":0,"v":1.65,"n":0.07,"g":0.062},{"t":"h","r":4,"c":0,"v":1.95,"n":0.04,"g":0.021},{"t":"h","r":4,"c":0,"v":2.25,"n":0.01,"g":0.006},{"t":"h","r":4,"c":0,"v":2.55,"n":0,"g":0.001},
{"t":"h","r":4,"c":1,"v":-2.55,"n":0.01,"g":0.001},{"t":"h","r":4,"c":1,"v":-2.25,"n":0.04,"g":0.006},{"t":"h","r":4,"c":1,"v":-1.95,"n":0.07,"g":0.021},{"t":"h","r":4,"c":1,"v":-1.65,"n":0.13,"g":0.062},{"t":"h","r":4,"c":1,"v":-1.35,"n":0.24,"g":0.156},{"t":"h","r":4,"c":1,"v":-1.05,"n":0.42,"g":0.325},{"t":"h","r":4,"c":1,"v":-0.75,"n":0.68,"g":0.563},{"t":"h","r":4,"c":1,"v":-0.45,"n":0.90,"g":0.813},{"t":"h","r":4,"c":1,"v":-0.15,"n":0.99,"g":0.977},{"t":"h","r":4,"c":1,"v":0.15,"n":0.90,"g":0.977},{"t":"h","r":4,"c":1,"v":0.45,"n":0.68,"g":0.813},{"t":"h","r":4,"c":1,"v":0.75,"n":0.44,"g":0.563},{"t":"h","r":4,"c":1,"v":1.05,"n":0.25,"g":0.325},{"t":"h","r":4,"c":1,"v":1.35,"n":0.12,"g":0.156},{"t":"h","r":4,"c":1,"v":1.65,"n":0.06,"g":0.062},{"t":"h","r":4,"c":1,"v":1.95,"n":0.03,"g":0.021},{"t":"h","r":4,"c":1,"v":2.25,"n":0,"g":0.006},{"t":"h","r":4,"c":1,"v":2.55,"n":0,"g":0.001},
{"t":"h","r":4,"c":2,"v":-2.55,"n":0.01,"g":0.001},{"t":"h","r":4,"c":2,"v":-2.25,"n":0.04,"g":0.006},{"t":"h","r":4,"c":2,"v":-1.95,"n":0.07,"g":0.021},{"t":"h","r":4,"c":2,"v":-1.65,"n":0.12,"g":0.062},{"t":"h","r":4,"c":2,"v":-1.35,"n":0.25,"g":0.156},{"t":"h","r":4,"c":2,"v":-1.05,"n":0.43,"g":0.325},{"t":"h","r":4,"c":2,"v":-0.75,"n":0.68,"g":0.563},{"t":"h","r":4,"c":2,"v":-0.45,"n":0.89,"g":0.813},{"t":"h","r":4,"c":2,"v":-0.15,"n":0.99,"g":0.977},{"t":"h","r":4,"c":2,"v":0.15,"n":0.90,"g":0.977},{"t":"h","r":4,"c":2,"v":0.45,"n":0.69,"g":0.813},{"t":"h","r":4,"c":2,"v":0.75,"n":0.43,"g":0.563},{"t":"h","r":4,"c":2,"v":1.05,"n":0.25,"g":0.325},{"t":"h","r":4,"c":2,"v":1.35,"n":0.12,"g":0.156},{"t":"h","r":4,"c":2,"v":1.65,"n":0.07,"g":0.062},{"t":"h","r":4,"c":2,"v":1.95,"n":0.03,"g":0.021},{"t":"h","r":4,"c":2,"v":2.25,"n":0.01,"g":0.006},{"t":"h","r":4,"c":2,"v":2.55,"n":0,"g":0.001},
{"t":"h","r":5,"c":0,"v":-2.55,"n":0.01,"g":0.001},{"t":"h","r":5,"c":0,"v":-2.25,"n":0.04,"g":0.006},{"t":"h","r":5,"c":0,"v":-1.95,"n":0.07,"g":0.021},{"t":"h","r":5,"c":0,"v":-1.65,"n":0.13,"g":0.062},{"t":"h","r":5,"c":0,"v":-1.35,"n":0.24,"g":0.156},{"t":"h","r":5,"c":0,"v":-1.05,"n":0.43,"g":0.325},{"t":"h","r":5,"c":0,"v":-0.75,"n":0.68,"g":0.563},{"t":"h","r":5,"c":0,"v":-0.45,"n":0.90,"g":0.813},{"t":"h","r":5,"c":0,"v":-0.15,"n":0.98,"g":0.977},{"t":"h","r":5,"c":0,"v":0.15,"n":0.90,"g":0.977},{"t":"h","r":5,"c":0,"v":0.45,"n":0.69,"g":0.813},{"t":"h","r":5,"c":0,"v":0.75,"n":0.44,"g":0.563},{"t":"h","r":5,"c":0,"v":1.05,"n":0.25,"g":0.325},{"t":"h","r":5,"c":0,"v":1.35,"n":0.12,"g":0.156},{"t":"h","r":5,"c":0,"v":1.65,"n":0.06,"g":0.062},{"t":"h","r":5,"c":0,"v":1.95,"n":0.02,"g":0.021},{"t":"h","r":5,"c":0,"v":2.25,"n":0,"g":0.006},{"t":"h","r":5,"c":0,"v":2.55,"n":0,"g":0.001},
{"t":"h","r":5,"c":1,"v":-2.55,"n":0.01,"g":0.001},{"t":"h","r":5,"c":1,"v":-2.25,"n":0.03,"g":0.006},{"t":"h","r":5,"c":1,"v":-1.95,"n":0.07,"g":0.021},{"t":"h","r":5,"c":1,"v":-1.65,"n":0.12,"g":0.062},{"t":"h","r":5,"c":1,"v":-1.35,"n":0.25,"g":0.156},{"t":"h","r":5,"c":1,"v":-1.05,"n":0.42,"g":0.325},{"t":"h","r":5,"c":1,"v":-0.75,"n":0.68,"g":0.563},{"t":"h","r":5,"c":1,"v":-0.45,"n":0.90,"g":0.813},{"t":"h","r":5,"c":1,"v":-0.15,"n":0.99,"g":0.977},{"t":"h","r":5,"c":1,"v":0.15,"n":0.90,"g":0.977},{"t":"h","r":5,"c":1,"v":0.45,"n":0.69,"g":0.813},{"t":"h","r":5,"c":1,"v":0.75,"n":0.43,"g":0.563},{"t":"h","r":5,"c":1,"v":1.05,"n":0.24,"g":0.325},{"t":"h","r":5,"c":1,"v":1.35,"n":0.12,"g":0.156},{"t":"h","r":5,"c":1,"v":1.65,"n":0.06,"g":0.062},{"t":"h","r":5,"c":1,"v":1.95,"n":0.03,"g":0.021},{"t":"h","r":5,"c":1,"v":2.25,"n":0.01,"g":0.006},{"t":"h","r":5,"c":1,"v":2.55,"n":0,"g":0.001},
{"t":"h","r":5,"c":2,"v":-2.55,"n":0.01,"g":0.001},{"t":"h","r":5,"c":2,"v":-2.25,"n":0.04,"g":0.006},{"t":"h","r":5,"c":2,"v":-1.95,"n":0.07,"g":0.021},{"t":"h","r":5,"c":2,"v":-1.65,"n":0.12,"g":0.062},{"t":"h","r":5,"c":2,"v":-1.35,"n":0.24,"g":0.156},{"t":"h","r":5,"c":2,"v":-1.05,"n":0.43,"g":0.325},{"t":"h","r":5,"c":2,"v":-0.75,"n":0.67,"g":0.563},{"t":"h","r":5,"c":2,"v":-0.45,"n":0.90,"g":0.813},{"t":"h","r":5,"c":2,"v":-0.15,"n":0.98,"g":0.977},{"t":"h","r":5,"c":2,"v":0.15,"n":0.91,"g":0.977},{"t":"h","r":5,"c":2,"v":0.45,"n":0.68,"g":0.813},{"t":"h","r":5,"c":2,"v":0.75,"n":0.45,"g":0.563},{"t":"h","r":5,"c":2,"v":1.05,"n":0.25,"g":0.325},{"t":"h","r":5,"c":2,"v":1.35,"n":0.13,"g":0.156},{"t":"h","r":5,"c":2,"v":1.65,"n":0.06,"g":0.062},{"t":"h","r":5,"c":2,"v":1.95,"n":0.03,"g":0.021},{"t":"h","r":5,"c":2,"v":2.25,"n":0.01,"g":0.006},{"t":"h","r":5,"c":2,"v":2.55,"n":0,"g":0.001}
]},
"facet":{
  "row":{"field":"r","type":"ordinal","header":null},
  "column":{"field":"c","type":"ordinal","header":null}
},
"spacing":{"row":0,"column":0},
"resolve":{"scale":{"x":"independent","y":"independent"},"axis":{"x":"independent","y":"independent"}},
"spec":{
  "width":415,"height":306,
  "resolve":{"scale":{"x":"independent"},"axis":{"x":"independent","y":"independent"}},
  "layer":[
    {
      "transform":[{"filter":"datum.t === 'e'"}],
      "mark":{"type":"line","interpolate":"cardinal-closed","stroke":"black","strokeWidth":2},
      "encoding":{
        "x":{"field":"x","type":"quantitative","scale":{"domain":[-5,8.607],"nice":false,"zero":false},
             "axis":{"orient":"bottom","title":null,"values":[-4,-3,-2,-1,0,1,2,3,4],"tickSize":{"condition":{"test":"datum.value === 0","value":-20},"value":-10}}},
        "y":{"field":"y","type":"quantitative","scale":{"domain":[-5,5],"nice":false,"zero":false},
             "axis":{"orient":"left","title":null,"values":[-4,-3,-2,-1,0,1,2,3,4],"tickSize":-11}},
        "order":{"field":"k","type":"quantitative"}
      }
    },
    {
      "transform":[{"filter":"datum.t === 'd'"}],
      "mark":{"type":"rule","stroke":"black","strokeWidth":1.6},
      "encoding":{
        "x":{"field":"x","type":"quantitative","scale":{"domain":[-5,8.607],"nice":false,"zero":false},
             "axis":{"orient":"top","title":null,"values":[-4,-3,-2,-1,0,1,2,3,4],"tickSize":{"condition":{"test":"datum.value === 0","value":-20},"value":-10}}},
        "y":{"field":"y","type":"quantitative","scale":{"domain":[-5,5],"nice":false,"zero":false},
             "axis":{"orient":"right","offset":-110,"domain":true,"domainColor":"black","domainWidth":2,"title":null,"values":[-4,-3,-2,-1,0,1,2,3,4],"tickSize":{"condition":{"test":"datum.value === 0","value":-20},"value":-10}}},
        "x2":{"field":"x2"},
        "y2":{"field":"y2"}
      }
    },
    {
      "transform":[{"filter":"datum.t === 'd' && datum.m === 1"}],
      "mark":{"type":"point","shape":"circle","filled":false,"stroke":"black","strokeWidth":1.8,"size":70,"opacity":1},
      "encoding":{
        "x":{"field":"x","type":"quantitative","scale":{"domain":[-5,8.607],"nice":false,"zero":false},"axis":null},
        "y":{"field":"y","type":"quantitative","scale":{"domain":[-5,5],"nice":false,"zero":false},"axis":null}
      }
    },
    {
      "transform":[{"filter":"datum.t === 'd' && datum.m === 1"}],
      "mark":{"type":"text","angle":270,"align":"left","baseline":"middle","font":"DejaVu Sans Mono","fontSize":31,"color":"black"},
      "encoding":{
        "x":{"datum":-3.98,"type":"quantitative","scale":{"domain":[-5,8.607],"nice":false,"zero":false},"axis":null},
        "y":{"datum":-4.44,"type":"quantitative","scale":{"domain":[-5,5],"nice":false,"zero":false},"axis":null},
        "text":{"field":"name"}
      }
    },
    {
      "transform":[{"filter":"datum.t === 'd' && datum.m === 1"}],
      "mark":{"type":"text","angle":270,"align":"right","baseline":"middle","font":"DejaVu Sans Mono","fontSize":31,"color":"black"},
      "encoding":{
        "x":{"datum":-3.98,"type":"quantitative","scale":{"domain":[-5,8.607],"nice":false,"zero":false},"axis":null},
        "y":{"datum":0.16,"type":"quantitative","scale":{"domain":[-5,5],"nice":false,"zero":false},"axis":null},
        "text":{"field":"num"}
      }
    },
    {
      "transform":[{"filter":"datum.t === 'h'"}],
      "mark":{"type":"line","interpolate":"cardinal","stroke":"black","strokeWidth":2},
      "encoding":{
        "x":{"field":"g","type":"quantitative","scale":{"domain":[0,4.11],"reverse":true,"nice":false,"zero":false},"axis":null},
        "y":{"field":"v","type":"quantitative","scale":{"domain":[-5,5],"nice":false,"zero":false},"axis":null},
        "order":{"field":"v","type":"quantitative"}
      }
    },
    {
      "transform":[{"filter":"datum.t === 'h'"}],
      "mark":{"type":"line","interpolate":"step-before","stroke":"black","strokeWidth":1.6},
      "encoding":{
        "x":{"field":"n","type":"quantitative","scale":{"domain":[0,4.11],"reverse":true,"nice":false,"zero":false},"axis":null},
        "y":{"field":"v","type":"quantitative","scale":{"domain":[-5,5],"nice":false,"zero":false},"axis":null},
        "order":{"field":"v","type":"quantitative"}
      }
    }
  ]
},
"config":{
  "view":{"stroke":"black","strokeWidth":2},
  "axis":{"labels":false,"grid":false,"domain":false,"ticks":true,"tickColor":"black","tickWidth":1.8,"minExtent":0,"maxExtent":0}
}
}
